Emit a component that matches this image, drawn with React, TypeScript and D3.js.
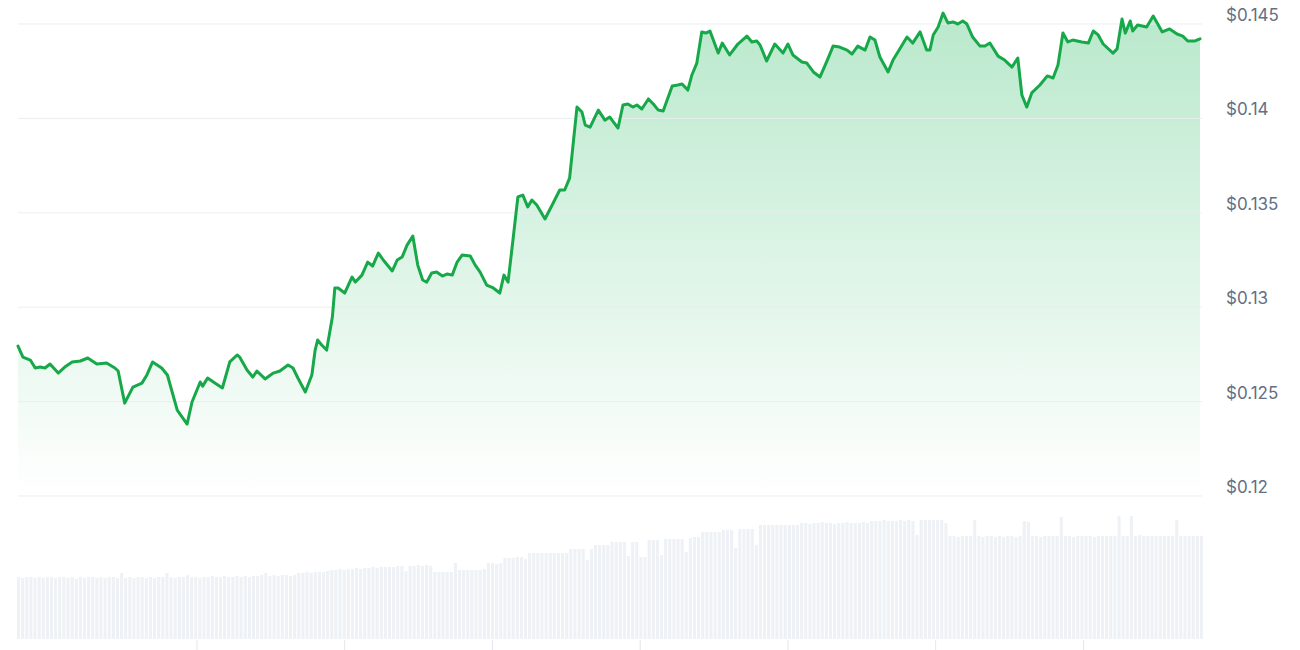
import React from "react";
import * as d3 from "d3";

// Price series: minutes since start of 24h window, price in USD
const priceMinutes = [
  0, 6, 15, 21, 27, 33, 39, 49, 57, 66, 76, 85, 96, 108, 118, 122, 130, 140, 151, 157,
  164, 175, 182, 194, 206, 212, 222, 225, 231, 238, 249, 258, 267, 270, 279, 286, 291, 301, 311, 319,
  329, 335, 341, 350, 358, 362, 365, 370, 376, 383, 386, 390, 398, 407, 411, 419, 426, 432, 439, 445,
  456, 462, 468, 474, 481, 487, 493, 498, 504, 510, 517, 523, 529, 535, 541, 551, 557, 563, 571, 579,
  587, 592, 597, 603, 609, 615, 621, 626, 632, 642, 652, 660, 666, 672, 681, 687, 691, 697, 707, 715,
  721, 731, 737, 743, 749, 754, 760, 768, 774, 780, 786, 797, 804, 809, 816, 821, 827, 833, 838, 843,
  853, 858, 867, 877, 888, 894, 900, 904, 912, 922, 932, 938, 944, 955, 961, 969, 977, 986, 993, 1001,
  1010, 1016, 1023, 1032, 1038, 1044, 1050, 1060, 1066, 1072, 1083, 1090, 1099, 1107, 1111, 1115, 1121, 1127, 1133, 1139,
  1145, 1151, 1156, 1163, 1172, 1178, 1184, 1194, 1202, 1211, 1218, 1223, 1229, 1235, 1245, 1254, 1261, 1267, 1273, 1279,
  1285, 1296, 1304, 1310, 1316, 1322, 1334, 1339, 1345, 1349, 1355, 1358, 1364, 1375, 1383, 1394, 1403, 1412, 1419, 1425,
  1434, 1440,
];
const priceValues = [
  0.12794, 0.12736, 0.1272, 0.12678, 0.12683, 0.12678, 0.12699, 0.12651, 0.12683, 0.1271, 0.12715, 0.12731, 0.12699, 0.12704, 0.12678, 0.12662, 0.12492, 0.12577, 0.12598, 0.12641,
  0.1271, 0.12678, 0.12641, 0.12455, 0.12381, 0.12498, 0.12604, 0.12582, 0.12625, 0.12604, 0.12572, 0.1271, 0.12747, 0.12736, 0.12667, 0.1263, 0.12662, 0.1262, 0.12651, 0.12662,
  0.12694, 0.12678, 0.12625, 0.12551, 0.12641, 0.12773, 0.12826, 0.128, 0.12773, 0.12948, 0.13102, 0.13102, 0.13075, 0.1316, 0.13133, 0.1317, 0.13239, 0.13218, 0.13287, 0.1325,
  0.13192, 0.1325, 0.13266, 0.13329, 0.13377, 0.13223, 0.13144, 0.13133, 0.13181, 0.13186, 0.13165, 0.13176, 0.1317, 0.13239, 0.13276, 0.13271, 0.13223, 0.13186, 0.13117, 0.13102,
  0.13075, 0.1317, 0.13133, 0.13356, 0.13584, 0.13594, 0.13531, 0.13568, 0.13541, 0.13467, 0.13552, 0.13621, 0.13621, 0.13684, 0.1406, 0.14034, 0.13965, 0.13954, 0.14044, 0.13991,
  0.14007, 0.13949, 0.14071, 0.14076, 0.1406, 0.14071, 0.1405, 0.14103, 0.14076, 0.14044, 0.14039, 0.14172, 0.14177, 0.14182, 0.1415, 0.1423, 0.14293, 0.14458, 0.14452, 0.14463,
  0.14346, 0.14399, 0.14336, 0.14394, 0.14436, 0.14405, 0.1441, 0.14389, 0.14304, 0.14394, 0.14346, 0.14394, 0.14336, 0.14299, 0.14293, 0.14246, 0.14219, 0.14309, 0.14383, 0.14378,
  0.14362, 0.14341, 0.14383, 0.14362, 0.14431, 0.14415, 0.14325, 0.14246, 0.14309, 0.14352, 0.14431, 0.14399, 0.14458, 0.14362, 0.14362, 0.14442, 0.14484, 0.14558, 0.14505, 0.14511,
  0.145, 0.14516, 0.145, 0.14431, 0.14383, 0.14383, 0.14399, 0.1433, 0.14309, 0.14272, 0.1432, 0.14124, 0.1406, 0.14135, 0.14177, 0.14225, 0.14214, 0.14283, 0.14452, 0.14405,
  0.14415, 0.14405, 0.14399, 0.14463, 0.14442, 0.14394, 0.14346, 0.14368, 0.14526, 0.14452, 0.14516, 0.14463, 0.14495, 0.14484, 0.14542, 0.14458, 0.14474, 0.14447, 0.14436, 0.1441,
  0.1441, 0.14421,
];

// 24h volume bars (USD millions), one per 5 minutes (288 bars)
const volumeValues = [
  31, 30.5, 31, 31, 30.5, 31, 30.5, 31, 31, 30.5, 31, 31, 30.5, 31, 30, 31, 30.5, 31, 31, 30.5,
  31, 30.5, 31, 31, 30.5, 33, 30.5, 31, 30.5, 31, 31, 30.5, 31, 30.5, 31, 31, 33, 31, 30.5, 31,
  31, 32, 31, 31, 30.5, 31, 31, 31.5, 31, 31, 31.5, 31, 31, 31.5, 31, 31.5, 31, 31.5, 31.5, 32,
  33, 31.5, 32, 31.5, 32, 32, 31.5, 32, 33, 33, 33.5, 33, 33.5, 33.5, 33.5, 34, 34.5, 34.5, 35, 34.5,
  35, 35, 35.5, 35, 35.5, 35.5, 36, 35.5, 36, 36, 36, 36, 36.5, 36.5, 34, 36.5, 36.5, 37, 36.5, 37,
  36.5, 33.5, 33.5, 33.5, 33.5, 33.5, 38, 34.5, 34.5, 34.5, 34.5, 34.5, 34.5, 35, 38, 38, 37.5, 38,
  40.5, 40.5, 40.5, 41, 41, 40, 43, 43, 43, 43, 43, 43, 43, 43, 43, 43, 45, 45, 45, 45,
  39.5, 45, 47, 47, 47, 47, 48.5, 48.5, 48.5, 48.5, 41.5, 48.5, 48.5, 41, 41, 49.5, 49.5, 49.5, 42, 50,
  50, 50, 50, 50, 43.5, 50.5, 51, 51, 53.5, 53.5, 53.5, 53.5, 53.5, 54.5, 54.5, 54.5, 45.5, 55, 55, 55,
  55, 47, 57, 57, 57, 57, 57, 57, 57, 57, 57, 57, 58, 58, 57.5, 58, 58, 58.5, 58, 58,
  57.5, 58, 58, 58.5, 58, 58, 58, 58.5, 58, 59, 59, 59, 59.5, 59, 59, 59, 59.5, 59, 59.5, 59,
  52, 59.5, 59.5, 59.5, 59.5, 59.5, 59.5, 58, 51.5, 51.5, 51, 51.5, 51.5, 51.5, 59.5, 51.5, 51, 51.5, 51.5, 51,
  51.5, 51, 51.5, 51.5, 51, 51.5, 59, 58.5, 51.5, 51.5, 51, 51.5, 51.5, 51.5, 51.5, 61, 51.5, 51.5, 51, 51.5,
  51.5, 51.5, 51.5, 51, 51.5, 51.5, 51.5, 51.5, 51.5, 61.5, 51.5, 51.5, 61.5, 51.5, 52, 51.5, 51.5, 51.5, 51.5, 51.5,
  51.5, 51.5, 51.5, 59.5, 51.5, 51.5, 51.5, 51.5, 51.5, 51.5,
];

const priceTicks = [0.12, 0.125, 0.13, 0.135, 0.14, 0.145];
const timeTickMinutes = [218, 398, 578, 758, 938, 1118, 1298];

export default function App() {
  const width = 1300;
  const height = 650;
  const left = 18;
  const right = 1200;
  const plotRight = 1202;

  const x = d3.scaleLinear().domain([0, 1440]).range([left, right]);
  const y = d3.scaleLinear().domain([0.12, 0.145]).range([496, 24]);

  const vx = d3
    .scaleBand<number>()
    .domain(volumeValues.map((_, i) => i))
    .range([17, 1203])
    .paddingInner(0.25);
  const vy = d3.scaleLinear().domain([0, 65]).range([639, 509]);

  const pts = priceMinutes.map((m, i) => ({ m, p: priceValues[i] }));
  const line = d3
    .line<{ m: number; p: number }>()
    .x((d) => x(d.m))
    .y((d) => y(d.p));
  const area = d3
    .area<{ m: number; p: number }>()
    .x((d) => x(d.m))
    .y0(y(0.12))
    .y1((d) => y(d.p));

  const fmt = (v: number) => "$" + String(+v.toFixed(3));

  return (
    <svg
      width={width}
      height={height}
      style={{ position: "absolute", left: 0, top: 0, background: "#fff" }}
    >
      <defs>
        <linearGradient id="areaGrad" x1="0" y1="0" x2="0" y2="1">
          <stop offset="0%" stopColor="#16b455" stopOpacity={0.3} />
          <stop offset="100%" stopColor="#16b455" stopOpacity={0} />
        </linearGradient>
      </defs>

      {volumeValues.map((v, i) => (
        <rect
          key={"v" + i}
          x={vx(i)}
          y={vy(v)}
          width={vx.bandwidth()}
          height={vy(0) - vy(v)}
          fill="#eef1f5"
        />
      ))}
      {timeTickMinutes.map((m) => (
        <line
          key={"t" + m}
          x1={x(m)}
          x2={x(m)}
          y1={640}
          y2={650}
          stroke="#e3e6ea"
          strokeWidth={1}
        />
      ))}

      <path d={area(pts) || ""} fill="url(#areaGrad)" />

      {priceTicks.map((t) => (
        <g key={"g" + t}>
          <line
            x1={left}
            x2={plotRight}
            y1={y(t)}
            y2={y(t)}
            stroke="#e9ecef"
            strokeOpacity={0.9}
            strokeWidth={1}
          />
          <text
            x={1226}
            y={y(t) - 3}
            fill="#646f83"
            fontFamily="Inter, 'Noto Sans', sans-serif"
            fontSize={17}
          >
            {fmt(t)}
          </text>
        </g>
      ))}

      <path
        d={line(pts) || ""}
        fill="none"
        stroke="#17a84a"
        strokeWidth={3}
        strokeLinejoin="round"
        strokeLinecap="round"
      />
    </svg>
  );
}
